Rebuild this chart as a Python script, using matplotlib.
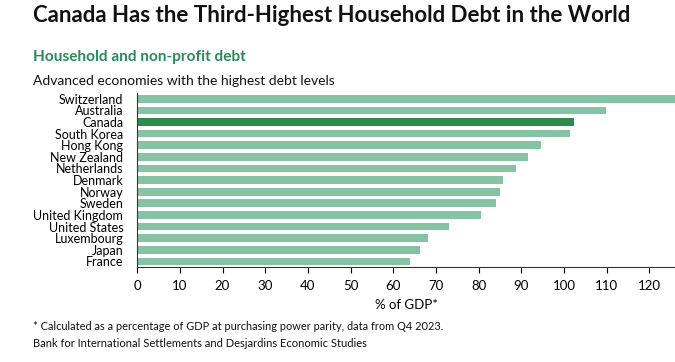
import matplotlib
matplotlib.use("Agg")
import matplotlib.pyplot as plt

countries = ["Switzerland", "Australia", "Canada", "South Korea", "Hong Kong",
             "New Zealand", "Netherlands", "Denmark", "Norway", "Sweden",
             "United Kingdom", "United States", "Luxembourg", "Japan", "France"]
debt = [128.0, 109.8, 102.4, 101.5, 94.6, 91.5, 88.8, 85.6, 85.0, 84.0,
        80.6, 73.1, 68.2, 66.2, 63.9]
xticks = list(range(0, 130, 10))

light = "#86c2a4"
dark = "#2e8a4e"

plt.rcParams['font.family'] = ['Lato', 'DejaVu Sans']

fig = plt.figure(figsize=(6.75, 3.62), dpi=100)
ax = fig.add_axes([0.2032, 0.262, 0.7968, 0.481])

colors = [dark if c == "Canada" else light for c in countries]
ax.barh(range(len(countries)), debt, height=0.66, color=colors)
ax.set_ylim(len(countries) - 0.5, -0.5)
ax.set_xlim(0, 126)
ax.set_yticks(range(len(countries)))
ax.set_yticklabels(countries, fontsize=9)
ax.set_xticks(xticks)
ax.set_xticklabels([str(t) for t in xticks], fontsize=9.5)
ax.tick_params(axis='y', length=0, pad=10)
ax.tick_params(axis='x', length=4, width=0.8, direction='out', pad=5)
ax.set_xlabel("% of GDP*", fontsize=9.5, labelpad=5)
for s in ["top", "right"]:
    ax.spines[s].set_visible(False)
ax.spines["left"].set_color("#333333")
ax.spines["bottom"].set_color("#333333")

fig.text(0.049, 0.956, "Canada Has the Third-Highest Household Debt in the World",
         fontsize=16, fontweight='bold', va='center', color="#111111")
fig.text(0.049, 0.843, "Household and non-profit debt", fontsize=11.1,
         fontweight='bold', va='center', color="#2a8a5a")
fig.text(0.049, 0.776, "Advanced economies with the highest debt levels",
         fontsize=10, va='center', color="#111111")
fig.text(0.049, 0.097, "* Calculated as a percentage of GDP at purchasing power parity, data from Q4 2023.",
         fontsize=7.9, va='center', color="#111111")
fig.text(0.049, 0.052, "Bank for International Settlements and Desjardins Economic Studies",
         fontsize=8.0, va='center', color="#111111")

fig.savefig("out.png", dpi=100)
